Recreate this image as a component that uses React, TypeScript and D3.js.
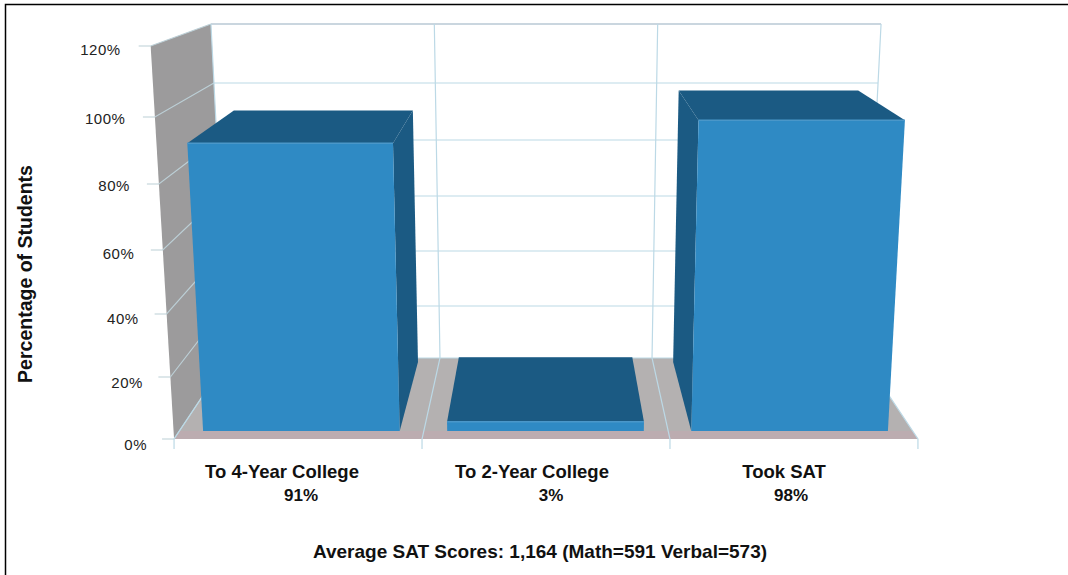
import React from "react";
import * as d3 from "d3";

const categories = ["To 4-Year College", "To 2-Year College", "Took SAT"];
const values = [91, 3, 98];
const valueLabels = ["91%", "3%", "98%"];
const tickValues = [0, 20, 40, 60, 80, 100, 120];
const frontTickY = [439, 377, 314, 250, 184, 117, 46];
const backTickY = [358, 306, 251, 196, 140, 83, 24];
const yTitle = "Percentage of Students";
const footer = "Average SAT Scores: 1,164 (Math=591 Verbal=573)";

const W = 1068;
const H = 575;
const CX = 546;
const FLOOR_FRONT = 438;
const FLOOR_BACK = 358;
const SCALE_BACK = 0.855;
const K = 0.00016;
const BAR_D0 = 0.1;
const BAR_D1 = [0.95, 0.91, 0.95];
const CAT_SHIFT = [-16, -14, -10];
const VAL_SHIFT = [3, 5, -3];
const TICK_LABEL_DY = [10.5, 10.5, 9.5, 8.5, 6.5, 6.5, 8.5];

const yFront = d3.scaleLinear().domain(tickValues).range(frontTickY);
const yBack = d3.scaleLinear().domain(tickValues).range(backTickY);
const boundary = d3.scalePoint<number>().domain([0, 1, 2, 3]).range([174, 918]);
const band = d3.scaleBand().domain(categories).range([198, 893]).paddingInner(0.1945).paddingOuter(0);

const lerp = (a: number, b: number, t: number) => d3.interpolateNumber(a, b)(t);
function P(x: number, v: number, d: number): [number, number] {
  const y = lerp(yFront(v), yBack(v), d);
  const f = lerp(1, SCALE_BACK, d);
  const fy = lerp(FLOOR_FRONT, FLOOR_BACK, d);
  return [CX + (x - CX) * f * (1 + K * (fy - y)), y];
}
const poly = (pts: [number, number][]) => d3.line()(pts) + "Z";

const C = {
  wall: "#9c9b9c",
  floor: "#b4b1b1",
  floorEdge: "#bcacb0",
  grid: "#bcd9e6",
  gridTop: "#b8c8d4",
  wallGrid: "#bccfd6",
  face: "#2f8ac4",
  faceEdge: "#4a97c9",
  dark: "#1b5a83",
  text: "#111",
};
const FONT = "'Liberation Sans', Arial, sans-serif";

export default function App() {
  const x0 = boundary(0)!;
  const x3 = boundary(3)!;
  return (
    <svg width={W} height={H} viewBox={`0 0 ${W} ${H}`} style={{ position: "absolute", left: 0, top: 0, background: "#fff" }} fontFamily={FONT}>
      <path d={`M5.5 ${H}V4.5H${W}`} fill="none" stroke="#000" strokeWidth={1.5} />
      <path d={poly([P(x0, 0, 0), P(x0, 120, 0), P(x0, 120, 1), P(x0, 0, 1)])} fill={C.wall} />
      <path d={poly([P(x0, 0, 0), P(x3, 0, 0), P(x3, 0, 1), P(x0, 0, 1)])} fill={C.floor} />
      <path d={poly([P(x0, 0, 0), P(x3, 0, 0), P(x3, 0, 0.1), P(x0, 0, 0.1)])} fill={C.floorEdge} />
      {tickValues.map((t, i) => (
        <g key={t}>
          <path d={d3.line()([P(x0, t, 1), P(x3, t, 1)])!} stroke={t === 120 ? C.gridTop : C.grid} strokeWidth={t === 120 ? 1.5 : 1.2} fill="none" />
          <path d={d3.line()([[P(x0, t, 0)[0] - 12, P(x0, t, 0)[1]], P(x0, t, 0), P(x0, t, 1)])!} stroke={C.wallGrid} strokeWidth={1.2} fill="none" />
          <text x={P(x0, t, 0)[0] - 27 - (t / 120) * 3} y={P(x0, t, 0)[1] + TICK_LABEL_DY[i]} textAnchor="end" fontSize={15} fill="#222" letterSpacing={0.5}>{t}%</text>
        </g>
      ))}
      {[0, 1, 2, 3].map((i) => {
        const x = boundary(i)!;
        const foot = P(x, 0, 0);
        return (
          <path key={i} d={d3.line()([P(x, 120, 1), P(x, 0, 1), foot, [foot[0], foot[1] + 10]])!} stroke={C.grid} strokeWidth={1.2} fill="none" />
        );
      })}
      {categories.map((c, i) => {
        const a = band(c)!;
        const b = a + band.bandwidth();
        const v = values[i];
        const d1 = BAR_D1[i];
        const mid = (boundary(i)! + boundary(i + 1)!) / 2;
        return (
          <g key={c}>
            <path d={poly([P(a, v, BAR_D0), P(b, v, BAR_D0), P(b, v, d1), P(a, v, d1)])} fill={C.dark} />
            {i === 0 && <path d={poly([P(b, 0, BAR_D0), P(b, v, BAR_D0), P(b, v, d1), P(b, 0, d1)])} fill={C.dark} />}
            {i === 2 && <path d={poly([P(a, 0, BAR_D0), P(a, v, BAR_D0), P(a, v, d1), P(a, 0, d1)])} fill={C.dark} />}
            <path d={poly([P(a, 0, BAR_D0), P(b, 0, BAR_D0), P(b, v, BAR_D0), P(a, v, BAR_D0)])} fill={C.face} />
            <path d={d3.line()([P(a, v, BAR_D0), P(b, v, BAR_D0)])!} stroke={C.faceEdge} strokeWidth={1.5} fill="none" />
            <text x={mid + CAT_SHIFT[i]} y={478} textAnchor="middle" fontSize={18.5} fontWeight="bold" fill={C.text}>{c}</text>
            <text x={mid + VAL_SHIFT[i]} y={501} textAnchor="middle" fontSize={17} fontWeight="bold" fill={C.text}>{valueLabels[i]}</text>
          </g>
        );
      })}
      <text transform="translate(32,274) rotate(-90)" textAnchor="middle" fontSize={19.5} fontWeight="bold" fill={C.text}>{yTitle}</text>
      <text x={540} y={558} textAnchor="middle" fontSize={19} fontWeight="bold" fill={C.text}>{footer}</text>
    </svg>
  );
}
